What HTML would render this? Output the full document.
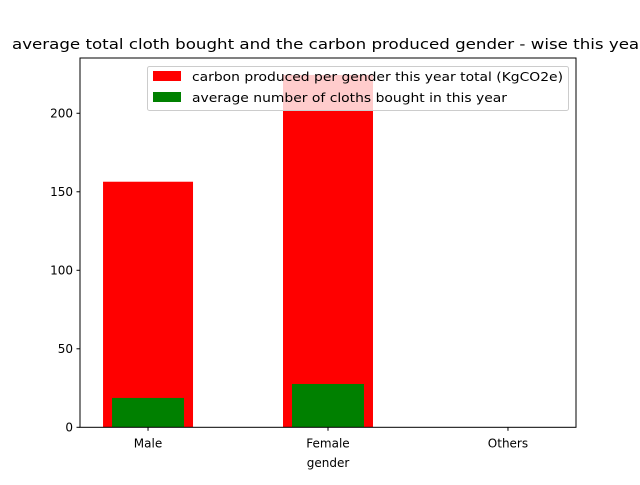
<!DOCTYPE html>
<html><head><meta charset="utf-8"><style>
body{margin:0;background:#fff;overflow:hidden;}
svg text{font-family:"DejaVu Sans","Liberation Sans",sans-serif;}
</style></head><body>
<svg id="chart" width="640" height="480" xmlns="http://www.w3.org/2000/svg">
<text x="12" y="49" font-size="14.4" textLength="634" lengthAdjust="spacingAndGlyphs">average total cloth bought and the carbon produced gender - wise this year</text>
<g id="bars"></g>
<g id="axes"></g>
<text x="328" y="467" font-size="12" text-anchor="middle">gender</text>
<g>
<rect x="147.5" y="66.5" width="421" height="44" rx="2" fill="#fff" fill-opacity="0.8" stroke="#ccc"/>
<rect x="153" y="71" width="28" height="10" fill="#ff0000"/>
<text x="192" y="81" font-size="12" textLength="371" lengthAdjust="spacingAndGlyphs">carbon produced per gender this year total (KgCO2e)</text>
<rect x="153" y="92" width="28" height="10" fill="#008000"/>
<text x="192" y="102" font-size="12" textLength="315" lengthAdjust="spacingAndGlyphs">average number of cloths bought in this year</text>
</g>
</svg>
<script>
const categories=["Male","Female","Others"];
const carbonValues=[156.4,224.4,0];
const clothValues=[18.7,27.6,0];
const yTicks=[0,50,100,150,200];
const L=80,R=576,T=58,B=427.3,yMax=235.2,xMin=-0.378,xMax=2.378;
const ns="http://www.w3.org/2000/svg";
const xs=v=>L+(v-xMin)/(xMax-xMin)*(R-L);
const ys=v=>B-v/yMax*(B-T);
const bars=document.getElementById('bars'),axes=document.getElementById('axes');
function mk(tag,attrs,parent){const e=document.createElementNS(ns,tag);for(const k in attrs)e.setAttribute(k,attrs[k]);parent.appendChild(e);return e;}
categories.forEach((c,i)=>{
 const r=mk('rect',{x:xs(i-0.25),y:ys(carbonValues[i]),width:xs(0.5)-xs(0),height:B-ys(carbonValues[i]),fill:'#ff0000'},bars);
 
 
});
categories.forEach((c,i)=>{
 const r=mk('rect',{x:xs(i-0.2),y:ys(clothValues[i]),width:xs(0.4)-xs(0),height:B-ys(clothValues[i]),fill:'#008000'},bars);
 
 
});
const f=mk('rect',{x:L,y:T,width:R-L,height:B-T,fill:'none',stroke:'#000','stroke-width':1},axes);


yTicks.forEach(v=>{
 mk('line',{x1:L-3.5,x2:L,y1:ys(v),y2:ys(v),stroke:'#000'},axes);
 const t=mk('text',{x:L-7,y:ys(v)+4,'font-size':12,'text-anchor':'end'},axes);t.textContent=v;
 
 
});
categories.forEach((c,i)=>{
 mk('line',{x1:xs(i),x2:xs(i),y1:B,y2:B+3.5,stroke:'#000'},axes);
 const t=mk('text',{x:xs(i),y:B+20,'font-size':12,'text-anchor':'middle'},axes);t.textContent=c;
 
 
});
</script>
</body></html>
